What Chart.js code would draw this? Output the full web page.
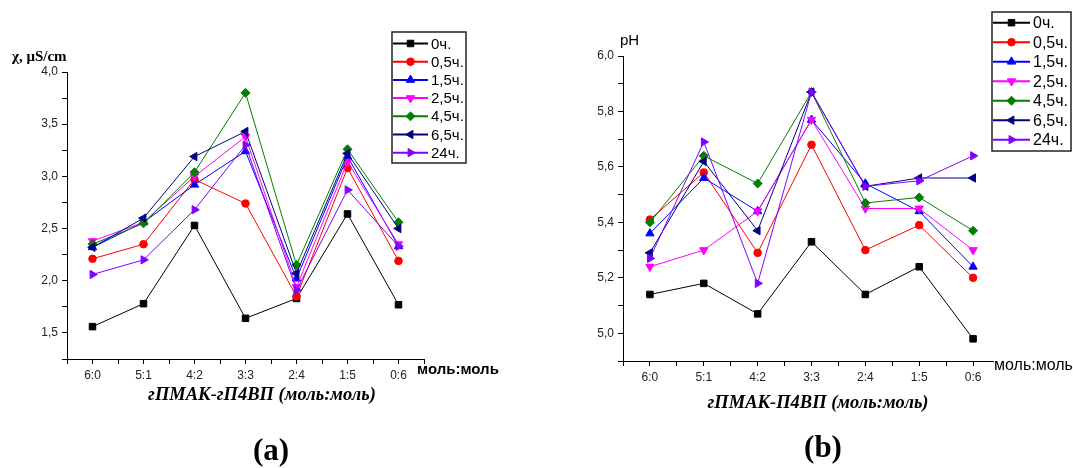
<!DOCTYPE html>
<html>
<head>
<meta charset="utf-8">
<script src="https://cdn.jsdelivr.net/npm/chart.js@4.4.0/dist/chart.umd.min.js"></script>
<style>
    body { margin: 0; background: #fff; width: 1073px; height: 468px; overflow: hidden; position: relative; }
    canvas { position: absolute; top: 0; }
    #chartA { left: 0; }
    #chartB { left: 536px; }
    .lbl { position: absolute; white-space: nowrap; line-height: 1; color: #000; }
    .serif { font-family: "Liberation Serif", "Times New Roman", serif; }
    .sans { font-family: "Liberation Sans", Arial, sans-serif; }
    .center { transform: translateX(-50%); }
</style>
</head>
<body>
<canvas id="chartA" width="536" height="468"></canvas>
<canvas id="chartB" width="537" height="468"></canvas>

<div class="lbl serif" style="left:12px;top:49px;font-size:15px;font-weight:bold;">χ, μS/cm</div>
<div class="lbl sans" style="left:417px;top:361px;font-size:15px;font-weight:bold;">моль:моль</div>
<div class="lbl serif center" style="left:262px;top:385px;font-size:18.5px;font-weight:bold;font-style:italic;">гПМАК-гП4ВП (моль:моль)</div>
<div class="lbl serif center" style="left:271px;top:434px;font-size:31px;font-weight:bold;">(a)</div>

<div class="lbl sans" style="left:620px;top:32px;font-size:15px;">pH</div>
<div class="lbl sans" style="left:994px;top:357px;font-size:16px;background:#fff;">моль:моль</div>
<div class="lbl serif center" style="left:818px;top:393px;font-size:18.5px;font-weight:bold;font-style:italic;">гПМАК-П4ВП (моль:моль)</div>
<div class="lbl serif center" style="left:823px;top:431px;font-size:31px;font-weight:bold;">(b)</div>

<script>
// ratios on the x axis
const ratios = ['6:0', '5:1', '4:2', '3:3', '2:4', '1:5', '0:6'];
const seriesNames = ['0ч.', '0,5ч.', '1,5ч.', '2,5ч.', '4,5ч.', '6,5ч.', '24ч.'];

// (a) conductivity, µS/cm
const cond0h  = [1.56, 1.78, 2.53, 1.64, 1.83, 2.64, 1.77];
const cond05h = [2.21, 2.35, 2.97, 2.74, 1.85, 3.08, 2.19];
const cond15h = [2.32, 2.56, 2.92, 3.24, 2.02, 3.19, 2.33];
const cond25h = [2.38, 2.56, 3.00, 3.38, 1.94, 3.14, 2.35];
const cond45h = [2.35, 2.55, 3.04, 3.80, 2.15, 3.26, 2.56];
const cond65h = [2.32, 2.60, 3.19, 3.43, 2.07, 3.22, 2.50];
const cond24h = [2.06, 2.20, 2.68, 3.30, 1.91, 2.87, 2.33];

// (b) pH
const ph0h  = [5.14, 5.18, 5.07, 5.33, 5.14, 5.24, 4.98];
const ph05h = [5.41, 5.58, 5.29, 5.68, 5.30, 5.39, 5.20];
const ph15h = [5.36, 5.56, 5.44, 5.77, 5.54, 5.44, 5.24];
const ph25h = [5.24, 5.30, 5.44, 5.77, 5.45, 5.45, 5.30];
const ph45h = [5.40, 5.64, 5.54, 5.87, 5.47, 5.49, 5.37];
const ph65h = [5.29, 5.62, 5.37, 5.87, 5.53, 5.56, 5.56];
const ph24h = [5.27, 5.69, 5.18, 5.87, 5.53, 5.55, 5.64];

// marker styles, one per series
const colors = ['#000000', '#ff0000', '#0000ff', '#ff00ff', '#008000', '#000080', '#8000ff'];
const pointStyles = ['rect', 'circle', 'triangle', 'triangle', 'rectRot', 'triangle', 'triangle'];
const rotations = [0, 0, 0, 180, 0, 270, 90];
const radii = [4.6, 3.8, 4.8, 4.8, 4.5, 4.8, 4.8];

Chart.defaults.font.family = '"Liberation Sans", Arial, sans-serif';
Chart.defaults.font.size = 12;
Chart.defaults.color = '#222';

const fmt = v => v.toFixed(1).replace('.', ',');

// legend with a frame, line + marker per row
const boxLegend = {
    id: 'boxLegend',
    afterDraw(chart, args, opts) {
        const ctx = chart.ctx;
        ctx.save();
        ctx.fillStyle = '#fff';
        ctx.fillRect(opts.x0, opts.y0, opts.x1 - opts.x0, opts.y1 - opts.y0);
        ctx.lineWidth = 1.5;
        ctx.strokeStyle = '#222';
        ctx.strokeRect(opts.x0, opts.y0, opts.x1 - opts.x0, opts.y1 - opts.y0);
        chart.data.datasets.forEach((ds, i) => {
            const y = opts.rowY + i * opts.rowStep;
            ctx.strokeStyle = ds.borderColor;
            ctx.lineWidth = 2;
            ctx.beginPath();
            ctx.moveTo(opts.lineX0, y);
            ctx.lineTo(opts.lineX1, y);
            ctx.stroke();
            ctx.fillStyle = ds.borderColor;
            ctx.lineWidth = 1;
            Chart.helpers.drawPoint(ctx, {
                pointStyle: ds.pointStyle,
                rotation: ds.pointRotation,
                radius: ds.pointRadius,
                borderWidth: 1
            }, (opts.lineX0 + opts.lineX1) / 2, y);
            ctx.fillStyle = '#000';
            ctx.font = opts.fontSize + 'px "Liberation Sans", Arial, sans-serif';
            ctx.textBaseline = 'middle';
            ctx.fillText(ds.label, opts.textX, y + 1);
        });
        ctx.restore();
    }
};

function makeChart(id, values, cfg) {
    const datasets = values.map((vals, i) => ({
        label: seriesNames[i],
        data: ratios.map((r, k) => ({ x: k, y: vals[k] })),
        borderColor: colors[i],
        backgroundColor: colors[i],
        pointBackgroundColor: colors[i],
        pointBorderColor: colors[i],
        pointStyle: pointStyles[i],
        pointRotation: rotations[i],
        pointRadius: radii[i],
        pointBorderWidth: 1,
        borderWidth: 1,
        tension: 0,
        order: values.length - 1 - i
    }));

    return new Chart(document.getElementById(id), {
        type: 'line',
        data: { datasets: datasets },
        plugins: [boxLegend],
        options: {
            responsive: false,
            animation: false,
            events: [],
            layout: { padding: { left: 0, top: cfg.top, right: cfg.right, bottom: 0 } },
            plugins: {
                legend: { display: false },
                tooltip: { enabled: false },
                boxLegend: cfg.legend
            },
            scales: {
                x: {
                    type: 'linear',
                    min: -0.5,
                    max: 6.5,
                    afterFit: s => { s.height = cfg.xHeight; },
                    border: { display: true, color: '#000', width: 1 },
                    grid: { drawOnChartArea: false, color: '#000', tickLength: 5 },
                    ticks: {
                        stepSize: 0.5,
                        autoSkip: false,
                        maxRotation: 0,
                        padding: 4,
                        callback: v => Number.isInteger(v) ? ratios[v] : ''
                    }
                },
                y: {
                    min: cfg.yMin,
                    max: cfg.yMax,
                    afterFit: s => { s.width = cfg.yWidth; },
                    border: { display: true, color: '#000', width: 1 },
                    grid: { drawOnChartArea: false, color: '#000', tickLength: 5 },
                    ticks: {
                        stepSize: cfg.yStep,
                        autoSkip: false,
                        padding: 4,
                        callback: v => cfg.isMajor(v) ? fmt(v) : ''
                    }
                }
            }
        }
    });
}

makeChart('chartA', [cond0h, cond05h, cond15h, cond25h, cond45h, cond65h, cond24h], {
    top: 72, right: 112, xHeight: 109, yWidth: 67,
    yMin: 1.25, yMax: 4.0, yStep: 0.25,
    isMajor: v => Math.abs(v * 2 - Math.round(v * 2)) < 1e-6,
    legend: { x0: 392, y0: 32, x1: 466, y1: 163, rowY: 43.5, rowStep: 18.2,
              lineX0: 393, lineX1: 428, textX: 431, fontSize: 15 }
});

makeChart('chartB', [ph0h, ph05h, ph15h, ph25h, ph45h, ph65h, ph24h], {
    top: 56, right: 73, xHeight: 107, yWidth: 87,
    yMin: 4.9, yMax: 6.0, yStep: 0.1,
    isMajor: v => Math.round(v * 10) % 2 === 0,
    legend: { x0: 456, y0: 12, x1: 535, y1: 151, rowY: 22.7, rowStep: 19.5,
              lineX0: 457, lineX1: 494, textX: 497, fontSize: 16 }
});
</script>
</body>
</html>
